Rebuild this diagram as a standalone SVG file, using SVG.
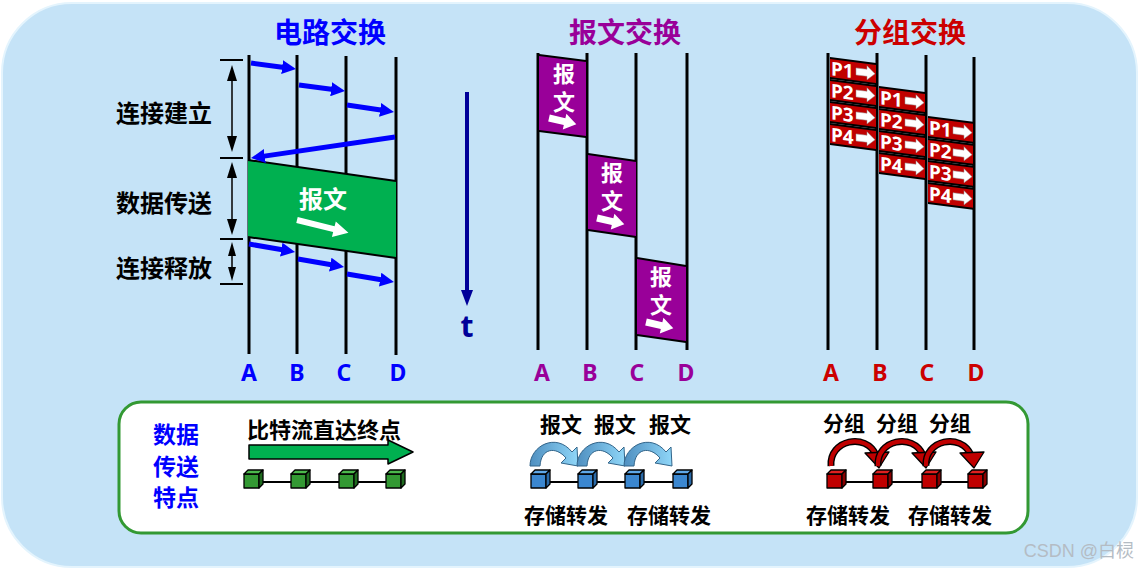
<svg xmlns="http://www.w3.org/2000/svg" width="1140" height="570" viewBox="0 0 1140 570">
<defs>
<style>
.cj{font-family:"Noto Sans CJK SC","Noto Sans",sans-serif;font-weight:bold;}
.lat{font-family:"Noto Sans","Liberation Sans",sans-serif;font-weight:bold;}
.vl{stroke:#000;stroke-width:3;}
.barr{stroke:#0000ff;stroke-width:5;fill:none;marker-end:url(#bh);}
.edge{stroke:#000;stroke-width:2;fill:none;}
.wt{fill:#fff;}
.vt{writing-mode:vertical-rl;letter-spacing:6px;font-size:22px;}
.pk{font-family:"Noto Sans","Liberation Sans",sans-serif;font-weight:bold;font-size:19px;fill:#fff;}
.tick{stroke:#000;stroke-width:2;}
.dbl{stroke:#000;stroke-width:1.5;}
.cube{stroke:#000;stroke-width:1.3;stroke-linejoin:round;}
</style>
<marker id="bh" markerUnits="userSpaceOnUse" markerWidth="16" markerHeight="14" refX="4" refY="7" orient="auto" viewBox="0 0 16 14"><path d="M0,0 L14,7 L0,14 Z" fill="#0000ff"/></marker>
<path id="warr" d="M0,-3.5 L16,-3.5 L16,-8 L28,0 L16,8 L16,3.5 L0,3.5 Z" fill="#fff"/>
<path id="parr" d="M0,-3.5 L11,-3.5 L11,-7 L19,0 L11,7 L11,3.5 L0,3.5 Z" fill="#fff" stroke="#999" stroke-width="0.5"/>
<linearGradient id="bg" x1="0" y1="0" x2="1" y2="0"><stop offset="0" stop-color="#4f8fc0"/><stop offset="1" stop-color="#8fd6f8"/></linearGradient>
<g id="cubeG"><rect x="0" y="4" width="15" height="14" fill="#339933" class="cube"/><polygon points="0,4 4,0 19,0 15,4" fill="#4cb84c" class="cube"/><polygon points="15,4 19,0 19,14 15,18" fill="#1f6b1f" class="cube"/></g>
<g id="cubeB"><rect x="0" y="4" width="15" height="14" fill="#3b87d0" class="cube"/><polygon points="0,4 4,0 19,0 15,4" fill="#5fa8e8" class="cube"/><polygon points="15,4 19,0 19,14 15,18" fill="#2a6aa8" class="cube"/></g>
<g id="cubeR"><rect x="0" y="4" width="15" height="14" fill="#c00000" class="cube"/><polygon points="0,4 4,0 19,0 15,4" fill="#e02020" class="cube"/><polygon points="15,4 19,0 19,14 15,18" fill="#8a0000" class="cube"/></g>
<path id="barc" d="M530,466 C530,446 556,432 572,452 L577,447 L578,466 L561,463 L566,458 C556,446 541,448 540,466 Z" fill="url(#bg)" stroke="#33658a" stroke-width="1"/>
<g id="rarc"><path d="M831,466 C829,440 866,432 876,455" fill="none" stroke="#000" stroke-width="7"/><path d="M831,466 C829,440 866,432 876,455" fill="none" stroke="#c00000" stroke-width="4.2"/><polygon points="865,453 889,452 879,468" fill="#c00000" stroke="#000" stroke-width="1.3" stroke-linejoin="round"/></g>
</defs>

<rect x="2" y="3" width="1135" height="564" rx="70" ry="70" fill="#c5e3f7" stroke="#e4f4fd" stroke-width="2"/>

<!-- Circuit switching -->
<g id="circuit">
<text x="330" y="43" class="cj" font-size="28" fill="#0000ff" text-anchor="middle">电路交换</text>
<line x1="249" y1="55" x2="249" y2="354" class="vl"/>
<line x1="297" y1="55" x2="297" y2="354" class="vl"/>
<line x1="346" y1="56" x2="346" y2="354" class="vl"/>
<line x1="396" y1="57" x2="396" y2="355" class="vl"/>
<polygon points="248,160 396,181 396,258 248,237" fill="#00b050"/>
<path d="M248,160 L396,181 M248,237 L396,258" class="edge"/>
<text x="323" y="208" class="cj wt" font-size="24" text-anchor="middle">报文</text>
<path d="M0,-3 L38,-3 L38,-8 L53,0 L38,8 L38,3 L0,3 Z" fill="#fff" transform="translate(297,220) rotate(14)"/>
<text x="164" y="122" class="cj" font-size="24" fill="#000" text-anchor="middle">连接建立</text>
<text x="164" y="212" class="cj" font-size="24" fill="#000" text-anchor="middle">数据传送</text>
<text x="164" y="277" class="cj" font-size="24" fill="#000" text-anchor="middle">连接释放</text>
<line x1="220" y1="60" x2="243" y2="60" class="tick"/>
<line x1="220" y1="158" x2="243" y2="158" class="tick"/>
<line x1="220" y1="239" x2="243" y2="239" class="tick"/>
<line x1="220" y1="284" x2="243" y2="284" class="tick"/>
<line x1="232" y1="70" x2="232" y2="147" class="dbl"/>
<polygon points="232,65 227,81 237,81"/><polygon points="232,152 227,136 237,136"/>
<line x1="232" y1="166" x2="232" y2="230" class="dbl"/>
<polygon points="232,162 227,178 237,178"/><polygon points="232,235 227,219 237,219"/>
<line x1="232" y1="246" x2="232" y2="277" class="dbl"/>
<polygon points="232,242 228,256 236,256"/><polygon points="232,281 228,267 236,267"/>
<text x="249" y="381" class="lat" font-size="23" fill="#0000ff" text-anchor="middle">A</text>
<text x="297" y="381" class="lat" font-size="23" fill="#0000ff" text-anchor="middle">B</text>
<text x="344" y="381" class="lat" font-size="23" fill="#0000ff" text-anchor="middle">C</text>
<text x="398" y="381" class="lat" font-size="23" fill="#0000ff" text-anchor="middle">D</text>
</g>

<g id="connectors">
<path d="M251,63 L286.1,67.7" class="barr"/>
<path d="M299,85 L335.1,89.7" class="barr"/>
<path d="M347,105 L384.1,110.5" class="barr"/>
<path d="M395,137 L260.9,156.6" class="barr"/>
<path d="M249,244 L285.2,250.3" class="barr"/>
<path d="M298,259 L334.2,265.3" class="barr"/>
<path d="M347,274 L384.1,280.3" class="barr"/>
</g>

<!-- time axis -->
<g id="time">
<line x1="467" y1="92" x2="467" y2="293" stroke="#000099" stroke-width="4"/>
<polygon points="461,290 473,290 467,306" fill="#000099"/>
<text x="467" y="337" class="lat" font-size="30" fill="#000099" text-anchor="middle">t</text>
</g>

<!-- Message switching -->
<g id="message">
<text x="625" y="43" class="cj" font-size="28" fill="#990099" text-anchor="middle">报文交换</text>
<line x1="538" y1="53" x2="538" y2="350" class="vl"/>
<line x1="587" y1="53" x2="587" y2="350" class="vl"/>
<line x1="636" y1="53" x2="636" y2="350" class="vl"/>
<line x1="687" y1="53" x2="687" y2="350" class="vl"/>
<g id="msg1">
<polygon points="539,55 586,61 586,137 539,131" fill="#990099"/>
<path d="M539,55 L586,61 M539,131 L586,137" class="edge"/>
<text x="564" y="63" class="cj wt vt">报文</text>
<use href="#warr" transform="translate(549,118) rotate(13)"/>
</g>
<g id="msg2">
<polygon points="588,154 636,161 636,237 588,230" fill="#990099"/>
<path d="M588,154 L636,161 M588,230 L636,237" class="edge"/>
<text x="612" y="162" class="cj wt vt">报文</text>
<use href="#warr" transform="translate(597,218) rotate(13)"/>
</g>
<g id="msg3">
<polygon points="637,258 686,266 686,342 637,335" fill="#990099"/>
<path d="M637,258 L686,266 M637,335 L686,342" class="edge"/>
<text x="661" y="266" class="cj wt vt">报文</text>
<use href="#warr" transform="translate(646,322) rotate(13)"/>
</g>
<text x="542" y="381" class="lat" font-size="23" fill="#990099" text-anchor="middle">A</text>
<text x="590" y="381" class="lat" font-size="23" fill="#990099" text-anchor="middle">B</text>
<text x="637" y="381" class="lat" font-size="23" fill="#990099" text-anchor="middle">C</text>
<text x="686" y="381" class="lat" font-size="23" fill="#990099" text-anchor="middle">D</text>
</g>

<!-- Packet switching -->
<g id="packet">
<text x="910" y="43" class="cj" font-size="28" fill="#cc0000" text-anchor="middle">分组交换</text>
<line x1="828" y1="53" x2="828" y2="350" class="vl"/>
<line x1="877" y1="53" x2="877" y2="350" class="vl"/>
<line x1="926" y1="55" x2="926" y2="350" class="vl"/>
<line x1="974" y1="57" x2="974" y2="350" class="vl"/>
<g id="pA1" transform="translate(830,58) skewY(7.4)"><rect width="46" height="20" fill="#c00000"/><path d="M0,0H46M0,20H46" class="edge"/><text x="1" y="17" class="pk">P1</text><use href="#parr" x="26" y="10"/></g>
<g id="pA2" transform="translate(830,80) skewY(7.4)"><rect width="46" height="20" fill="#c00000"/><path d="M0,0H46M0,20H46" class="edge"/><text x="1" y="17" class="pk">P2</text><use href="#parr" x="26" y="10"/></g>
<g id="pA3" transform="translate(830,102) skewY(7.4)"><rect width="46" height="20" fill="#c00000"/><path d="M0,0H46M0,20H46" class="edge"/><text x="1" y="17" class="pk">P3</text><use href="#parr" x="26" y="10"/></g>
<g id="pA4" transform="translate(830,124) skewY(7.4)"><rect width="46" height="20" fill="#c00000"/><path d="M0,0H46M0,20H46" class="edge"/><text x="1" y="17" class="pk">P4</text><use href="#parr" x="26" y="10"/></g>
<g id="pB1" transform="translate(879,87) skewY(7.4)"><rect width="46" height="20" fill="#c00000"/><path d="M0,0H46M0,20H46" class="edge"/><text x="1" y="17" class="pk">P1</text><use href="#parr" x="26" y="10"/></g>
<g id="pB2" transform="translate(879,109) skewY(7.4)"><rect width="46" height="20" fill="#c00000"/><path d="M0,0H46M0,20H46" class="edge"/><text x="1" y="17" class="pk">P2</text><use href="#parr" x="26" y="10"/></g>
<g id="pB3" transform="translate(879,131) skewY(7.4)"><rect width="46" height="20" fill="#c00000"/><path d="M0,0H46M0,20H46" class="edge"/><text x="1" y="17" class="pk">P3</text><use href="#parr" x="26" y="10"/></g>
<g id="pB4" transform="translate(879,153) skewY(7.4)"><rect width="46" height="20" fill="#c00000"/><path d="M0,0H46M0,20H46" class="edge"/><text x="1" y="17" class="pk">P4</text><use href="#parr" x="26" y="10"/></g>
<g id="pC1" transform="translate(928,117) skewY(7.4)"><rect width="45" height="20" fill="#c00000"/><path d="M0,0H45M0,20H45" class="edge"/><text x="1" y="17" class="pk">P1</text><use href="#parr" x="25" y="10"/></g>
<g id="pC2" transform="translate(928,139) skewY(7.4)"><rect width="45" height="20" fill="#c00000"/><path d="M0,0H45M0,20H45" class="edge"/><text x="1" y="17" class="pk">P2</text><use href="#parr" x="25" y="10"/></g>
<g id="pC3" transform="translate(928,161) skewY(7.4)"><rect width="45" height="20" fill="#c00000"/><path d="M0,0H45M0,20H45" class="edge"/><text x="1" y="17" class="pk">P3</text><use href="#parr" x="25" y="10"/></g>
<g id="pC4" transform="translate(928,183) skewY(7.4)"><rect width="45" height="20" fill="#c00000"/><path d="M0,0H45M0,20H45" class="edge"/><text x="1" y="17" class="pk">P4</text><use href="#parr" x="25" y="10"/></g>
<text x="831" y="381" class="lat" font-size="23" fill="#cc0000" text-anchor="middle">A</text>
<text x="880" y="381" class="lat" font-size="23" fill="#cc0000" text-anchor="middle">B</text>
<text x="927" y="381" class="lat" font-size="23" fill="#cc0000" text-anchor="middle">C</text>
<text x="976" y="381" class="lat" font-size="23" fill="#cc0000" text-anchor="middle">D</text>
</g>

<!-- Bottom panel -->
<g id="features">
<rect x="119" y="402" width="909" height="131" rx="22" ry="22" fill="#fff" stroke="#339933" stroke-width="3"/>
<text x="176" y="443" class="cj" font-size="23" fill="#0000ff" text-anchor="middle">数据</text>
<text x="176" y="475" class="cj" font-size="23" fill="#0000ff" text-anchor="middle">传送</text>
<text x="176" y="506" class="cj" font-size="23" fill="#0000ff" text-anchor="middle">特点</text>
</g>
<g id="circuit-feature">
<text x="324" y="438" class="cj" font-size="22" fill="#000" text-anchor="middle">比特流直达终点</text>
<polygon points="249,445 388,445 388,440 413,452 388,464 388,459 249,459" fill="#00b050" stroke="#000" stroke-width="1.5" stroke-linejoin="round"/>
<line x1="258" y1="482" x2="392" y2="482" stroke="#000" stroke-width="2"/>
<use href="#cubeG" x="244" y="470"/><use href="#cubeG" x="291" y="470"/><use href="#cubeG" x="339" y="470"/><use href="#cubeG" x="386" y="470"/>
</g>
<g id="message-feature">
<text x="561" y="432" class="cj" font-size="21" fill="#000" text-anchor="middle">报文</text>
<text x="615" y="432" class="cj" font-size="21" fill="#000" text-anchor="middle">报文</text>
<text x="670" y="432" class="cj" font-size="21" fill="#000" text-anchor="middle">报文</text>
<use href="#barc"/><use href="#barc" x="47"/><use href="#barc" x="94"/>
<line x1="545" y1="482" x2="680" y2="482" stroke="#000" stroke-width="2"/>
<use href="#cubeB" x="531" y="470"/><use href="#cubeB" x="578" y="470"/><use href="#cubeB" x="625" y="470"/><use href="#cubeB" x="673" y="470"/>
<text x="566" y="523" class="cj" font-size="21" fill="#000" text-anchor="middle">存储转发</text>
<text x="669" y="523" class="cj" font-size="21" fill="#000" text-anchor="middle">存储转发</text>
</g>
<g id="packet-feature">
<text x="844" y="431" class="cj" font-size="21" fill="#000" text-anchor="middle">分组</text>
<text x="897" y="431" class="cj" font-size="21" fill="#000" text-anchor="middle">分组</text>
<text x="950" y="431" class="cj" font-size="21" fill="#000" text-anchor="middle">分组</text>
<use href="#rarc"/><use href="#rarc" x="47"/><use href="#rarc" x="95"/>
<line x1="840" y1="482" x2="975" y2="482" stroke="#000" stroke-width="2"/>
<use href="#cubeR" x="827" y="470"/><use href="#cubeR" x="873" y="470"/><use href="#cubeR" x="922" y="470"/><use href="#cubeR" x="968" y="470"/>
<text x="848" y="523" class="cj" font-size="21" fill="#000" text-anchor="middle">存储转发</text>
<text x="950" y="523" class="cj" font-size="21" fill="#000" text-anchor="middle">存储转发</text>
</g>

<text x="1134" y="557" font-family="Liberation Sans, Noto Sans CJK SC, sans-serif" font-size="18" fill="#b4bcc4" text-anchor="end">CSDN @白棂</text>
</svg>
